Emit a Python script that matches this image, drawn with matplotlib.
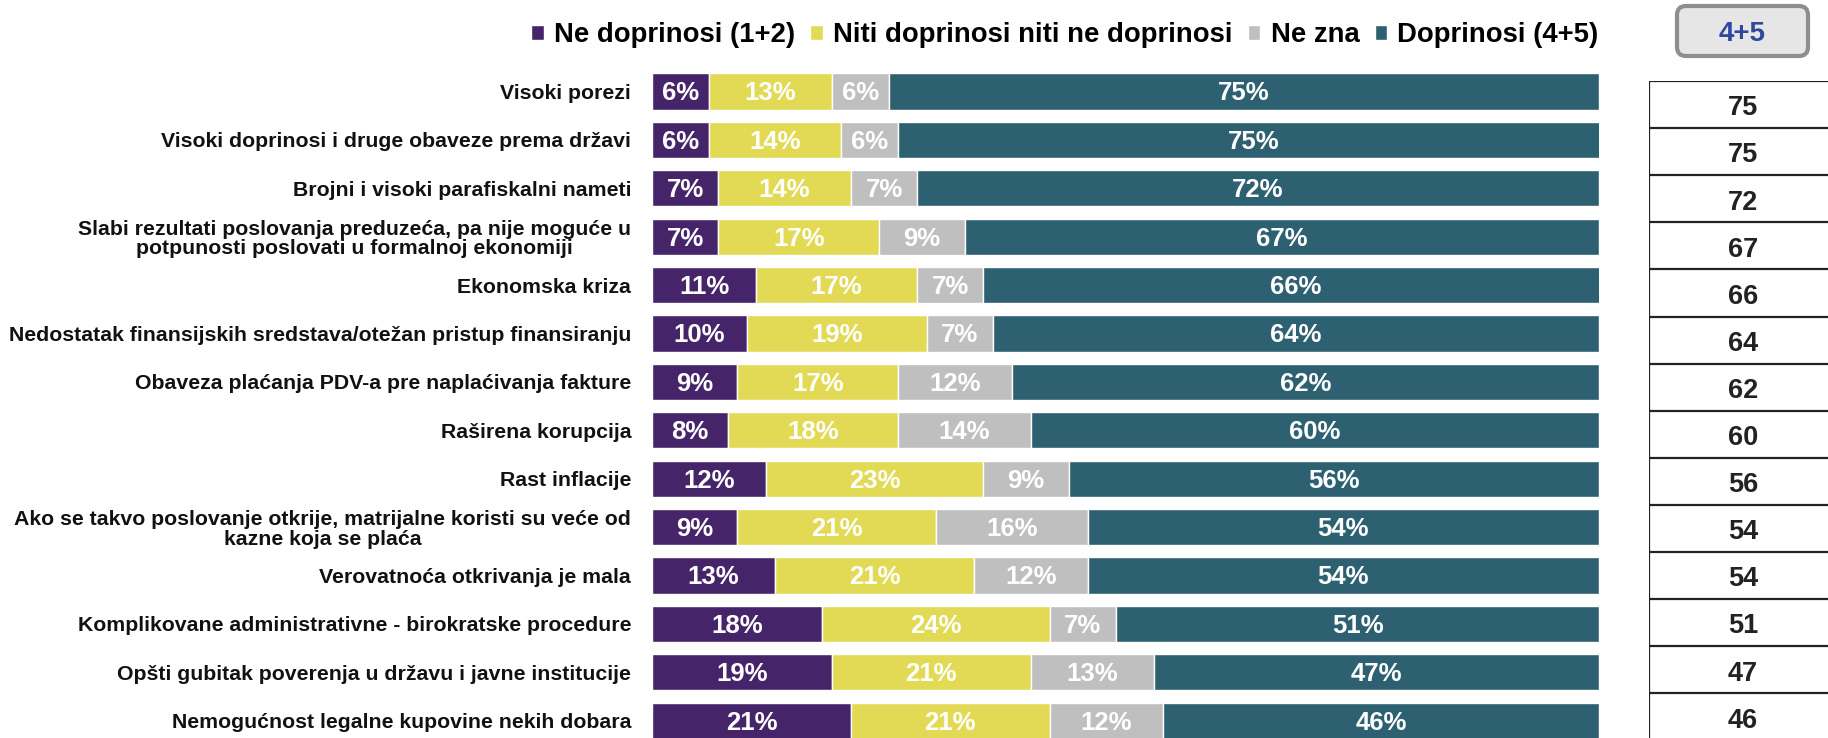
import matplotlib

matplotlib.use("Agg")
import matplotlib.pyplot as plt
from matplotlib.patches import FancyBboxPatch

plt.rcParams["font.family"] = ["Liberation Sans", "DejaVu Sans"]
plt.rcParams["font.weight"] = "bold"

CATEGORIES = [
    "Visoki porezi",
    "Visoki doprinosi i druge obaveze prema državi",
    "Brojni i visoki parafiskalni nameti",
    "Slabi rezultati poslovanja preduzeća, pa nije moguće u\npotpunosti poslovati u formalnoj ekonomiji",
    "Ekonomska kriza",
    "Nedostatak finansijskih sredstava/otežan pristup finansiranju",
    "Obaveza plaćanja PDV-a pre naplaćivanja fakture",
    "Raširena korupcija",
    "Rast inflacije",
    "Ako se takvo poslovanje otkrije, matrijalne koristi su veće od\nkazne koja se plaća",
    "Verovatnoća otkrivanja je mala",
    "Komplikovane administrativne - birokratske procedure",
    "Opšti gubitak poverenja u državu i javne institucije",
    "Nemogućnost legalne kupovine nekih dobara",
]
NE_DOPRINOSI = [6, 6, 7, 7, 11, 10, 9, 8, 12, 9, 13, 18, 19, 21]
NITI = [13, 14, 14, 17, 17, 19, 17, 18, 23, 21, 21, 24, 21, 21]
NE_ZNA = [6, 6, 7, 9, 7, 7, 12, 14, 9, 16, 12, 7, 13, 12]
DOPRINOSI = [75, 75, 72, 67, 66, 64, 62, 60, 56, 54, 54, 51, 47, 46]
TOP_BOX = [75, 75, 72, 67, 66, 64, 62, 60, 56, 54, 54, 51, 47, 46]

SERIES_NAMES = ["Ne doprinosi (1+2)", "Niti doprinosi niti ne doprinosi", "Ne zna", "Doprinosi (4+5)"]
COLORS = ["#46246a", "#e2da55", "#bfbfbf", "#2d6171"]

W, H = 1828, 738
fig = plt.figure(figsize=(W / 100, H / 100), dpi=100, facecolor="white")


def px_axes(left, top, width, height):
    return fig.add_axes([left / W, 1 - (top + height) / H, width / W, height / H])


# main bars
row_h = 48.4
ax = px_axes(652, 91.5 - row_h / 2, 947, row_h * 14)
ys = list(range(len(CATEGORIES)))
left = [0] * len(CATEGORIES)
handles = []
for name, vals, color in zip(SERIES_NAMES, [NE_DOPRINOSI, NITI, NE_ZNA, DOPRINOSI], COLORS):
    b = ax.barh(ys, vals, left=left, height=0.745, color=color, edgecolor="white", linewidth=1.0, label=name)
    handles.append(b)
    for y, v, l in zip(ys, vals, left):
        ax.text(l + v / 2, y + 0.04, f"{v}%", ha="center", va="center", color="white",
                fontsize=18.5, fontweight="bold")
    left = [a + v for a, v in zip(left, vals)]

ax.set_xlim(0, 100)
ax.set_ylim(13.5, -0.5)
ax.set_yticks(ys)
ax.set_yticklabels(CATEGORIES, fontsize=15.3, fontweight="bold", color="#111111", linespacing=1.05)
for lbl in ax.get_yticklabels():
    lbl.set_multialignment("center")
ax.tick_params(axis="y", length=0, pad=15)
ax.set_xticks([])
for s in ax.spines.values():
    s.set_visible(False)

fig.legend(
    handles,
    SERIES_NAMES,
    loc="center",
    bbox_to_anchor=(1065 / W, 1 - 35 / H),
    ncol=4,
    frameon=False,
    handlelength=0.45,
    handleheight=0.45,
    handletextpad=0.38,
    columnspacing=0.55,
    borderpad=0,
    prop={"weight": "bold", "size": 19.8},
)

# right table
tax = px_axes(1649, 81, 200, 47.1 * 14)
tax.set_xlim(0, 200)
tax.set_ylim(14, 0)
tax.axis("off")
tax.hlines(range(15), 0, 200, color="#222222", linewidth=1.6)
tax.vlines(0, 0, 14, color="#222222", linewidth=1.6)
for i, v in enumerate(TOP_BOX):
    tax.text(94, i + 0.58, str(v), ha="center", va="center", fontsize=19.5, fontweight="bold", color="#222222")

# "4+5" header box
bax = px_axes(1674, 3, 137, 56)
bax.set_xlim(-3, 134)
bax.set_ylim(-3, 53)
bax.axis("off")
bax.add_patch(
    FancyBboxPatch(
        (0, 0), 131, 50,
        boxstyle="round,pad=0,rounding_size=9",
        facecolor="#e6e6e6",
        edgecolor="#8e8e8e",
        linewidth=3,
    )
)
bax.text(65.5, 22, "4+5", ha="center", va="center", fontsize=20, fontweight="bold", color="#2f47a0")

fig.savefig("out.png", dpi=100, facecolor="white")
